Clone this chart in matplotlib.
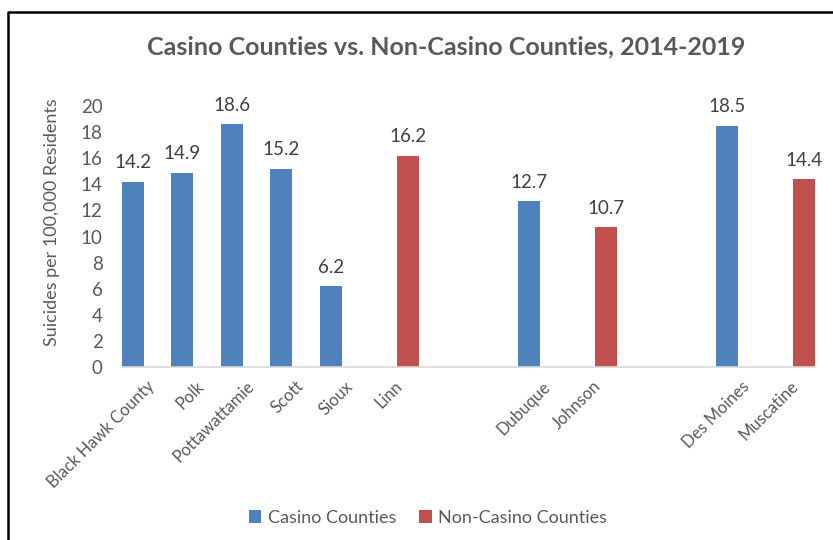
import matplotlib
matplotlib.use("Agg")
import matplotlib.pyplot as plt
from matplotlib.lines import Line2D
from matplotlib.patches import Patch
import numpy as np

plt.rcParams["font.family"] = ["Lato", "DejaVu Sans"]

# Counties on the category axis; blank entries separate the comparison groups
categories = ["Black Hawk County", "Polk", "Pottawattamie", "Scott", "Sioux", "Linn",
              "", "", "Dubuque", "Johnson", "", "", "Des Moines", "Muscatine"]
casino = [14.2, 14.9, 18.6, 15.2, 6.2, None, None, None, 12.7, None, None, None, 18.5, None]
non_casino = [None, None, None, None, None, 16.2, None, None, None, 10.7, None, None, None, 14.4]
series_names = ["Casino Counties", "Non-Casino Counties"]
y_ticks = list(range(0, 21, 2))

title = "Casino Counties vs. Non-Casino Counties, 2014-2019"
y_label = "Suicides per 100,000 Residents"

BLUE = "#4F81BD"
RED = "#C0504D"
TEXT = "#595959"
LABEL = "#404040"

fig = plt.figure(figsize=(8.33, 5.40), dpi=100)
fig.patch.set_facecolor("white")
ax = fig.add_axes([122 / 833, 1 - 367 / 540, 693 / 833, 261 / 540])

idx = np.arange(len(categories))
bar_w = 0.444
offset = 0.283

for values, shift, color in ((casino, -offset, BLUE), (non_casino, offset, RED)):
    for i, v in zip(idx, values):
        if v is None:
            continue
        ax.bar(i + shift, v, width=bar_w, color=color, zorder=2)
        ax.annotate(f"{v:.1f}", (i + shift, v), xytext=(0, 7.5), textcoords="offset points",
                    ha="center", va="bottom", fontsize=13.5, color=LABEL)

ax.set_xlim(-0.5, len(categories) - 0.5)
ax.set_ylim(0, 20)
ax.set_yticks(y_ticks)
ax.set_yticklabels([str(t) for t in y_ticks], fontsize=13.5, color=TEXT)
ax.tick_params(axis="y", length=0, pad=14)
ax.set_xticks(idx)
ax.set_xticklabels(categories, rotation=45, ha="right", va="top",
                   rotation_mode="anchor", fontsize=12, color=TEXT)
ax.tick_params(axis="x", length=0, pad=8)

for side in ("top", "right", "left"):
    ax.spines[side].set_visible(False)
ax.spines["bottom"].set_color("#D9D9D9")
ax.spines["bottom"].set_linewidth(1.2)

ax.set_ylabel(y_label, fontsize=13, color=TEXT, va="center")
ax.yaxis.set_label_coords(-70 / 693, 0.555)

fig.text(446 / 833, 1 - 47 / 540, title, ha="center", va="center",
         fontsize=18, fontweight="bold", color=TEXT)

handles = [Patch(facecolor=BLUE), Patch(facecolor=RED)]
fig.legend(handles, series_names, loc="center", bbox_to_anchor=(428 / 833, 1 - 518 / 540),
           ncol=2, frameon=False, fontsize=13, handlelength=0.7, handleheight=0.7,
           handletextpad=0.35, columnspacing=1.3, labelcolor=TEXT)

# outer chart frame (left and top edges)
fig.add_artist(Line2D([8 / 833, 8 / 833, 1.0], [0.0, 1 - 12 / 540, 1 - 12 / 540],
                      transform=fig.transFigure, color="black", linewidth=1.8))

fig.savefig("out.png", dpi=100)
